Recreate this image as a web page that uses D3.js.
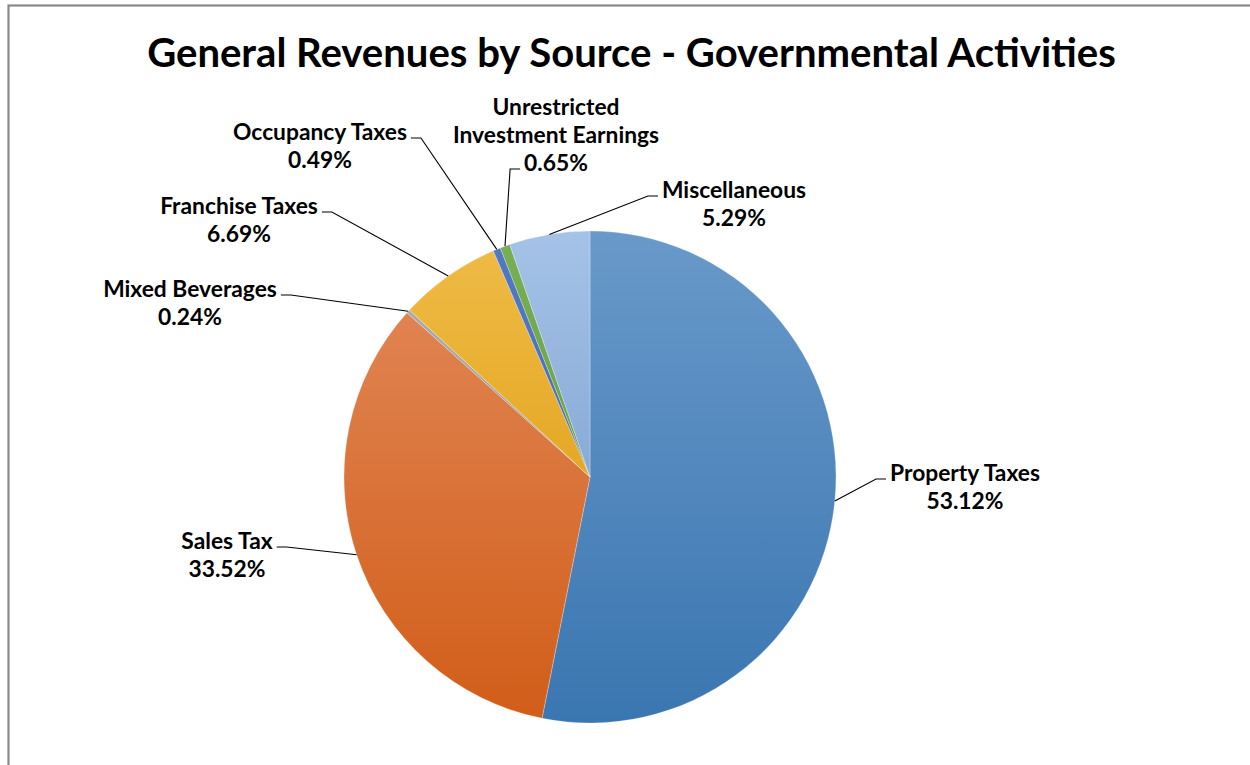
<!DOCTYPE html>
<html>
<head>
<meta charset="utf-8">
<script src="https://cdn.jsdelivr.net/npm/d3@7"></script>
<style>
  html, body { margin: 0; padding: 0; background: #fff; }
  svg { display: block; }
  text { font-family: Lato, "Open Sans", sans-serif; font-weight: 700; fill: #000; }
</style>
</head>
<body>
<svg id="chart" width="1250" height="765"></svg>
<script>
// Revenue sources, in pie order (clockwise from 12 o'clock)
const categories = [
  "Property Taxes", "Sales Tax", "Mixed Beverages", "Franchise Taxes",
  "Occupancy Taxes", "Unrestricted Investment Earnings", "Miscellaneous"
];
// Share of general revenues, percent
const shares = [53.12, 33.52, 0.24, 6.69, 0.49, 0.65, 5.29];
// How each category name wraps in its label
const nameLines = [
  ["Property Taxes"], ["Sales Tax"], ["Mixed Beverages"], ["Franchise Taxes"],
  ["Occupancy Taxes"], ["Unrestricted", "Investment Earnings"], ["Miscellaneous"]
];
const title = "General Revenues by Source - Governmental Activities";

// Slice fills: light at the top of the pie, darker at the bottom
const fillTop    = ["#6999CA", "#E38B5D", "#B0B0B0", "#EFBC48", "#5279C4", "#79AF55", "#A5C3E7"];
const fillBottom = ["#3A76B0", "#D15D18", "#8E8E8E", "#DB9300", "#3E64AF", "#5E9537", "#6B91C7"];

// Label placement: text centre x, first baseline y, side of the text the
// leader line meets, and which text line it meets.
const labelLayout = [
  { x: 965, y: 481, side: "left",  line: 0 },
  { x: 227, y: 549, side: "right", line: 0 },
  { x: 190, y: 297, side: "right", line: 0 },
  { x: 239, y: 214, side: "right", line: 0 },
  { x: 320, y: 140, side: "right", line: 0 },
  { x: 556, y: 115, side: "left",  line: 2 },
  { x: 734, y: 198, side: "left",  line: 0 }
];

const W = 1250, H = 765;
const cx = 590, cy = 477, R = 246;
const lineGap = 28;

const svg = d3.select("#chart");

// frame (runs off the right and bottom edges)
svg.append("rect")
  .attr("x", 8.5).attr("y", 5.5)
  .attr("width", W + 40).attr("height", H + 40)
  .attr("fill", "#fff")
  .attr("stroke", "#898989").attr("stroke-width", 2.2);

// helper: size a font so a reference string reaches a target width
function fitSize(str, target, base) {
  const t = svg.append("text").attr("font-size", base).text(str);
  const w = t.node().getComputedTextLength();
  t.remove();
  return base * target / w;
}

// title
const titleSize = fitSize(title, 969, 36);
svg.append("text")
  .attr("x", 631.5).attr("y", 67)
  .attr("text-anchor", "middle")
  .attr("font-size", titleSize)
  .text(title);

// gradients, in the pie group's own coordinates (centred on the origin)
const defs = svg.append("defs");
categories.forEach((c, i) => {
  const g = defs.append("linearGradient")
    .attr("id", "grad" + i)
    .attr("gradientUnits", "userSpaceOnUse")
    .attr("x1", 0).attr("y1", -R)
    .attr("x2", 0).attr("y2", R);
  g.append("stop").attr("offset", "0%").attr("stop-color", fillTop[i]);
  g.append("stop").attr("offset", "100%").attr("stop-color", fillBottom[i]);
});

const pie = d3.pie().sort(null).value(d => d)(shares);
const arc = d3.arc().innerRadius(0).outerRadius(R);

const gPie = svg.append("g").attr("transform", `translate(${cx},${cy})`);
gPie.selectAll("path")
  .data(pie)
  .join("path")
  .attr("d", arc)
  .attr("fill", (d, i) => `url(#grad${i})`)
  .attr("stroke", "#fff")
  .attr("stroke-opacity", 0.45)
  .attr("stroke-width", 0.6);

// labels and leader lines
const labelSize = fitSize("Property Taxes", 150, 24);
const fmt = d3.format(".2f");

pie.forEach((d, i) => {
  const lay = labelLayout[i];
  const lines = nameLines[i].concat([fmt(shares[i]) + "%"]);
  const t = svg.append("text")
    .attr("text-anchor", "middle")
    .attr("font-size", labelSize);
  lines.forEach((s, k) => {
    t.append("tspan").attr("x", lay.x).attr("y", lay.y + k * lineGap).text(s);
  });

  // width of the line the leader meets
  const tsp = t.selectAll("tspan").nodes()[lay.line];
  const w = tsp.getComputedTextLength();
  const yAttach = lay.y + lay.line * lineGap - 2;
  const xEdge = lay.side === "left" ? lay.x - w / 2 - 4 : lay.x + w / 2 + 4;
  const xElbow = lay.side === "left" ? xEdge - 10 : xEdge + 10;

  const a = (d.startAngle + d.endAngle) / 2;
  const px = cx + R * Math.sin(a);
  const py = cy - R * Math.cos(a);

  svg.append("path")
    .attr("d", d3.line()([[xEdge, yAttach], [xElbow, yAttach], [px, py]]))
    .attr("fill", "none")
    .attr("stroke", "#000")
    .attr("stroke-width", 1.1);
});
</script>
</body>
</html>
